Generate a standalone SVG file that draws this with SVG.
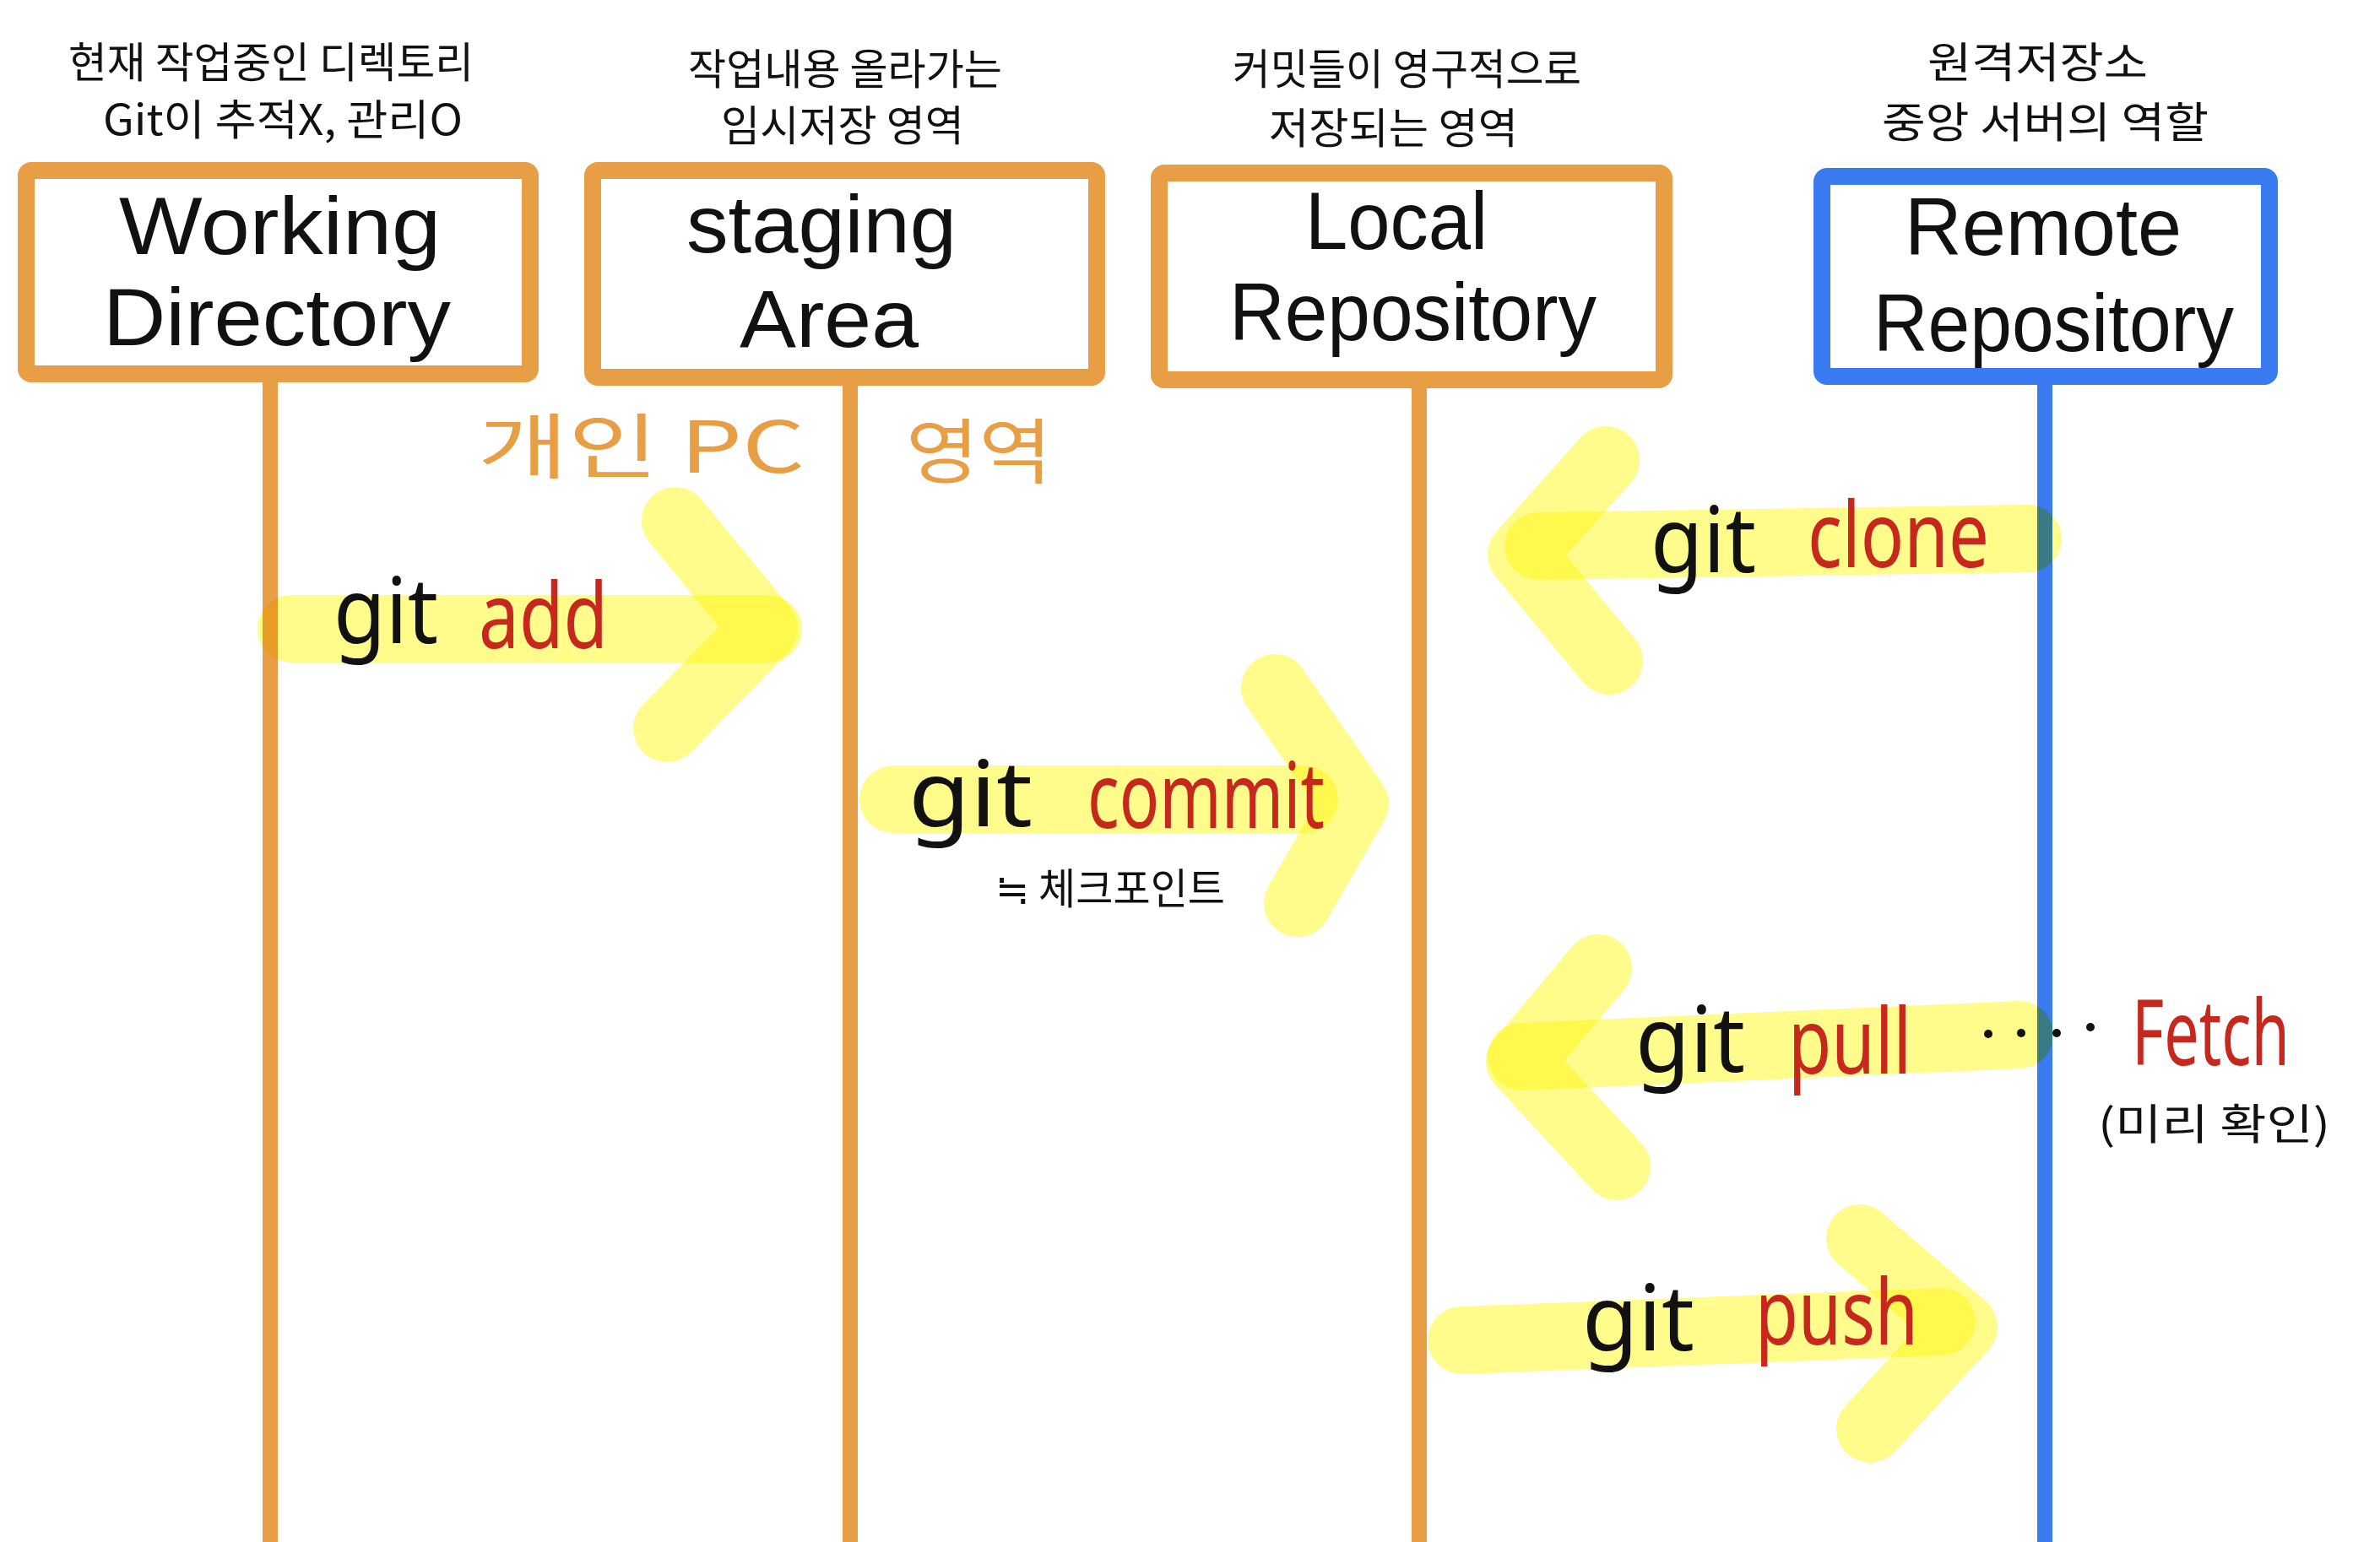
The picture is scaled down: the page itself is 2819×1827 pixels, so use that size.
<svg xmlns="http://www.w3.org/2000/svg" width="2819" height="1827" viewBox="0 0 2819 1827">
  <style>
    .box { fill: #ffffff; stroke-width: 20; }
    .orange { stroke: #E89E45; }
    .blue { stroke: #3A7BF2; }
    .life { stroke-width: 18; fill: none; }
    .title { font-family: "Liberation Sans", "Noto Sans", sans-serif; font-size: 96px; fill: #111111; }
    .note { font-family: "Noto Sans CJK KR", "Noto Sans", sans-serif; font-size: 50px; fill: #111111; }
    .area { font-family: "Noto Sans CJK KR", "Noto Sans", sans-serif; font-size: 84px; fill: #E89E45; }
    .hl { fill: none; stroke: #FFFC8C; stroke-width: 80; stroke-linecap: round; stroke-linejoin: round; mix-blend-mode: multiply; }
    .cmd { font-family: "Noto Sans", "Liberation Sans", sans-serif; font-size: 108px; }
    .k { fill: #111111; }
    .r { fill: #C6281E; }
    .dot { fill: #111111; }
  </style>
  <rect x="0" y="0" width="2819" height="1827" fill="#ffffff"/>

  <g id="working-directory">
    <text class="note" x="81" y="92" textLength="480" lengthAdjust="spacingAndGlyphs">현재 작업중인 디렉토리</text>
    <text class="note" x="122" y="160" textLength="426" lengthAdjust="spacingAndGlyphs">Git이 추적X, 관리O</text>
    <line class="life orange" x1="320" y1="450" x2="320" y2="1827"/>
    <rect class="box orange" x="31" y="202" width="597" height="241" rx="6"/>
    <text class="title" x="141" y="301" textLength="381" lengthAdjust="spacingAndGlyphs">Working</text>
    <text class="title" x="122" y="409" textLength="412" lengthAdjust="spacingAndGlyphs">Directory</text>
  </g>

  <g id="staging-area">
    <text class="note" x="815" y="100" textLength="372" lengthAdjust="spacingAndGlyphs">작업내용 올라가는</text>
    <text class="note" x="854" y="167" textLength="288" lengthAdjust="spacingAndGlyphs">임시저장 영역</text>
    <line class="life orange" x1="1007" y1="450" x2="1007" y2="1827"/>
    <rect class="box orange" x="702" y="202" width="597" height="245" rx="6"/>
    <text class="title" x="813" y="299" textLength="320" lengthAdjust="spacingAndGlyphs">staging</text>
    <text class="title" x="876" y="411" textLength="212" lengthAdjust="spacingAndGlyphs">Area</text>
  </g>

  <g id="local-repository">
    <text class="note" x="1460" y="100" textLength="413" lengthAdjust="spacingAndGlyphs">커밋들이 영구적으로</text>
    <text class="note" x="1503" y="170" textLength="295" lengthAdjust="spacingAndGlyphs">저장되는 영역</text>
    <line class="life orange" x1="1681" y1="455" x2="1681" y2="1827"/>
    <rect class="box orange" x="1373" y="205" width="598" height="245" rx="6"/>
    <text class="title" x="1546" y="295" textLength="216" lengthAdjust="spacingAndGlyphs">Local</text>
    <text class="title" x="1456" y="403" textLength="435" lengthAdjust="spacingAndGlyphs">Repository</text>
  </g>

  <g id="remote-repository">
    <text class="note" x="2283" y="92" textLength="261" lengthAdjust="spacingAndGlyphs">원격저장소</text>
    <text class="note" x="2229" y="163" textLength="387" lengthAdjust="spacingAndGlyphs">중앙 서버의 역할</text>
    <line class="life blue" x1="2422" y1="450" x2="2422" y2="1827"/>
    <rect class="box blue" x="2158" y="209" width="530" height="237" rx="6"/>
    <text class="title" x="2256" y="302" textLength="328" lengthAdjust="spacingAndGlyphs">Remote</text>
    <text class="title" x="2219" y="416" textLength="427" lengthAdjust="spacingAndGlyphs">Repository</text>
  </g>

  <g id="pc-area-label">
    <text class="area" x="566" y="560" textLength="387" lengthAdjust="spacingAndGlyphs">개인 PC</text>
    <text class="area" x="1073" y="566" textLength="173" lengthAdjust="spacingAndGlyphs">영역</text>
  </g>

  <g id="connectors">
    <g id="git-add">
      <path class="hl" d="M 345 745 L 910 745"/>
      <path class="hl" d="M 800 617 L 905 745 L 790 863"/>
      <text class="cmd k" x="395" y="762" textLength="124" lengthAdjust="spacingAndGlyphs">git</text>
      <text class="cmd r" x="567" y="768" textLength="153" lengthAdjust="spacingAndGlyphs">add</text>
    </g>
    <g id="git-commit">
      <path class="hl" d="M 1058 947 L 1545 947"/>
      <path class="hl" d="M 1510 815 L 1605 952 L 1537 1070"/>
      <text class="cmd k" x="1076" y="979" textLength="147" lengthAdjust="spacingAndGlyphs">git</text>
      <text class="cmd r" x="1288" y="981" textLength="281" lengthAdjust="spacingAndGlyphs">commit</text>
      <text class="note" x="1179" y="1071" font-size="46" textLength="272" lengthAdjust="spacingAndGlyphs">≒ 체크포인트</text>
    </g>
    <g id="git-clone">
      <path class="hl" d="M 1822 647 L 2402 638"/>
      <path class="hl" d="M 1902 545 L 1802 657 L 1906 783"/>
      <text class="cmd k" x="1955" y="678" textLength="125" lengthAdjust="spacingAndGlyphs">git</text>
      <text class="cmd r" x="2141" y="672" textLength="215" lengthAdjust="spacingAndGlyphs">clone</text>
    </g>
    <g id="git-pull">
      <path class="hl" d="M 1802 1252 L 2392 1226"/>
      <path class="hl" d="M 1893 1147 L 1800 1258 L 1915 1382"/>
      <text class="cmd k" x="1937" y="1270" textLength="130" lengthAdjust="spacingAndGlyphs">git</text>
      <text class="cmd r" x="2118" y="1272" textLength="146" lengthAdjust="spacingAndGlyphs">pull</text>
      <circle class="dot" cx="2355" cy="1225" r="5"/>
      <circle class="dot" cx="2394" cy="1224" r="5"/>
      <circle class="dot" cx="2436" cy="1224" r="5"/>
      <circle class="dot" cx="2476" cy="1217" r="5"/>
      <text class="cmd r" x="2525" y="1262" font-size="100" textLength="187" lengthAdjust="spacingAndGlyphs">Fetch</text>
      <text class="note" x="2485" y="1350" font-size="56" textLength="275" lengthAdjust="spacingAndGlyphs">(미리 확인)</text>
    </g>
    <g id="git-push">
      <path class="hl" d="M 1731 1588 L 2300 1566"/>
      <path class="hl" d="M 2203 1467 L 2326 1572 L 2215 1693"/>
      <text class="cmd k" x="1874" y="1600" textLength="133" lengthAdjust="spacingAndGlyphs">git</text>
      <text class="cmd r" x="2079" y="1593" textLength="193" lengthAdjust="spacingAndGlyphs">push</text>
    </g>
  </g>
</svg>
